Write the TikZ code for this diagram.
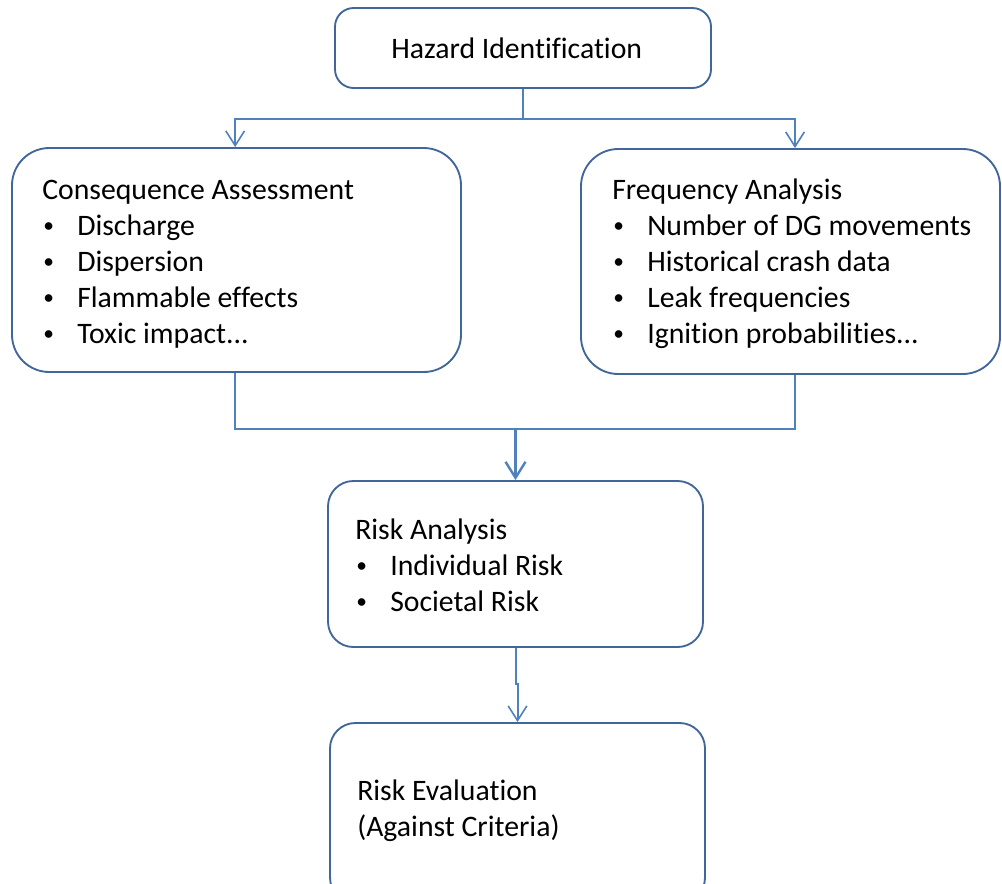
\documentclass[tikz,border=0pt]{standalone}
\usepackage{fontspec}
\setmainfont{Carlito}[Ligatures=NoCommon]
\usetikzlibrary{arrows.meta}
\definecolor{boxc}{HTML}{41679A}
\definecolor{linec}{HTML}{4F81BD}
\newcommand{\bl}[1]{\makebox[26.25pt][l]{\hspace{0.8pt}\raisebox{2.2pt}{\scalebox{0.72}{\textbullet}}}#1}
\begin{document}
\begin{tikzpicture}[x=0.75pt,y=-0.75pt,
  box/.style={draw=boxc,line width=1.4pt,fill=white,inner sep=0pt,rectangle},
  txt/.style={inner sep=0pt,anchor=base west,font=\fontsize{22.3}{27}\selectfont,align=left},
  conn/.style={draw=linec,line width=1.5pt},
  tip/.style={-{Straight Barb[length=11pt,width=14pt,line width=1.2pt]}}]
\useasboundingbox (0,0) rectangle (1002,883);
\node[box,rounded corners=14pt,minimum width=282pt,minimum height=60pt] (haz) at (523,48) {};
\node[box,rounded corners=28pt,minimum width=336.75pt,minimum height=168pt] (cons) at (236.5,260) {};
\node[box,rounded corners=28pt,minimum width=314.25pt,minimum height=168.75pt] (freq) at (790.5,261.5) {};
\node[box,rounded corners=19pt,minimum width=281.25pt,minimum height=124.5pt] (ra) at (515.5,564) {};
\node[box,rounded corners=19pt,minimum width=281.25pt,minimum height=135pt] (re) at (517.5,813) {};

\node[txt] (hazt) at (391,58) {Hazard Identification};
\node[txt] (const) at (42,199) {\begin{tabular}[t]{@{}l@{}}Consequence Assessment\\ \bl{Discharge}\\ \bl{Dispersion}\\ \bl{Flammable effects}\\ \bl{Toxic impact...}\end{tabular}};
\node[txt] (freqt) at (612,199) {\begin{tabular}[t]{@{}l@{}}Frequency Analysis\\ \bl{Number of DG movements}\\ \bl{Historical crash data}\\ \bl{Leak frequencies}\\ \bl{Ignition probabilities...}\end{tabular}};
\node[txt] (rat) at (355,539) {\begin{tabular}[t]{@{}l@{}}Risk Analysis\\ \bl{Individual Risk}\\ \bl{Societal Risk}\end{tabular}};
\node[txt] (ret) at (357,800) {\begin{tabular}[t]{@{}l@{}}Risk Evaluation\\ (Against Criteria)\end{tabular}};

\draw[conn] (haz.south) -- ++(0,30) coordinate (hj);
\draw[conn,tip] (hj) -| ([xshift=-1pt]cons.north);
\draw[conn,tip] (hj) -| ([xshift=3.4pt]freq.north);
\coordinate (mj) at (515.5,429);
\draw[conn] ([xshift=-1pt]cons.south) |- (mj);
\draw[conn] ([xshift=3.4pt]freq.south) |- (mj);
\draw[conn,line width=2.2pt,-{Straight Barb[length=12pt,width=15pt,line width=1.8pt]}] (mj) -- (ra.north);
\draw[conn,tip] (ra.south) -- ++(0,36) coordinate (rj) -| (re.north);
\end{tikzpicture}
\end{document}
